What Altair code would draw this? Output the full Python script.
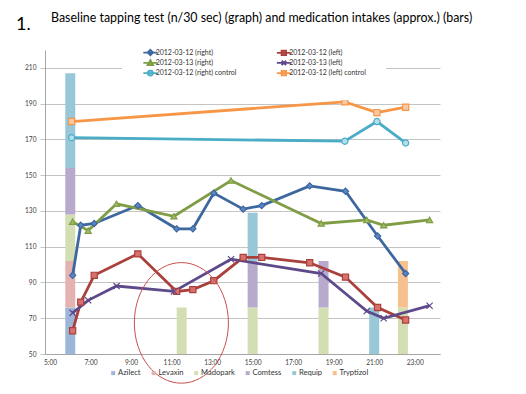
import altair as alt
import pandas as pd

# ---------------- data ----------------
title_text = ["Baseline tapping test (n/30 sec) (graph) and medication intakes (approx.) (bars)"]
number_label = ["1."]

series_names = ["2012-03-12 (right)", "2012-03-12 (left)",
                "2012-03-13 (right)", "2012-03-13 (left)",
                "2012-03-12 (right) control", "2012-03-12 (left) control"]
# legend is filled column by column: left column first
legend_order = [0, 2, 4, 1, 3, 5]

times_0312 = ["6:07", "6:31", "7:11", "9:20", "11:15", "12:03", "13:05",
              "14:32", "15:27", "17:49", "19:35", "21:10", "22:33"]
right_0312 = [94, 122, 123, 133, 120, 120, 140, 131, 133, 144, 141, 116, 95]
left_0312 = [63, 79, 94, 106, 85, 86, 91, 104, 104, 101, 93, 76, 69]

times_0313 = ["6:07", "6:53", "8:17", "11:07", "13:56", "18:23", "20:38", "21:28", "23:44"]
right_0313 = [124, 119, 134, 127, 147, 123, 125, 122, 125]
left_0313 = [73, 80, 88, 85, 103, 95, 74, 70, 77]

times_ctrl = ["6:04", "19:33", "21:08", "22:33"]
right_ctrl = [171, 169, 180, 168]
left_ctrl = [180, 191, 185, 188]

med_names = ["Azilect", "Levaxin", "Madopark", "Comtess", "Requip", "Tryptizol"]
bar_times = ["6:00", "6:00", "6:00", "6:00", "6:00", "11:30",
             "15:00", "15:00", "15:00", "18:30", "18:30", "21:00", "22:25", "22:25"]
bar_meds = ["Azilect", "Levaxin", "Madopark", "Comtess", "Requip", "Madopark",
            "Madopark", "Comtess", "Requip", "Madopark", "Comtess", "Requip",
            "Madopark", "Tryptizol"]
bar_amounts = [26, 26, 26, 26, 53, 26, 26, 26, 27, 26, 26, 26, 26, 26]

x_ticks = [5, 7, 9, 11, 13, 15, 17, 19, 21, 23]
y_ticks = [50, 70, 90, 110, 130, 150, 170, 190, 210]

circle_time = ["11:29"]
circle_value = [67.4]

# ---------------- styles ----------------
line_colors = ["#3D679F", "#A9403C", "#7F9D45", "#5E4A8A", "#4BACC6", "#F79646"]
marker_fills = ["#5B88C4", "#D8716D", "#A0BE63", "#5E4A8A", "#B3DEEA", "#FAC7A3"]
x_path = "M-1,-1L1,1M-1,1L1,-1"
marker_shapes = ["diamond", "square", "triangle-up", x_path, "circle", "square"]
med_colors = ["#9CB6D9", "#E4B3B1", "#D3DFB3", "#B8AACD", "#98C8D8", "#F7C08F"]

FONT = "Lato"


def hours(s):
    h, m = s.split(":")
    return int(h) + int(m) / 60.0


rows = []
for name, ts, vs in [(series_names[0], times_0312, right_0312),
                     (series_names[1], times_0312, left_0312),
                     (series_names[2], times_0313, right_0313),
                     (series_names[3], times_0313, left_0313),
                     (series_names[4], times_ctrl, right_ctrl),
                     (series_names[5], times_ctrl, left_ctrl)]:
    for t, v in zip(ts, vs):
        rows.append({"t": hours(t), "v": v, "series": name})
line_df = pd.DataFrame(rows)

bar_df = pd.DataFrame({
    "t": [hours(t) for t in bar_times],
    "med": bar_meds,
    "amount": bar_amounts,
    "order": [med_names.index(m) for m in bar_meds],
})

circle_df = pd.DataFrame({"t": [hours(t) for t in circle_time], "v": circle_value})
num_df = pd.DataFrame({"label": number_label})
title_df = pd.DataFrame({"label": title_text})

x_scale = alt.Scale(domain=[5, 24], nice=False, zero=False)
y_scale = alt.Scale(domain=[50, 220], nice=False, zero=False)
x_axis = alt.Axis(values=x_ticks, labelExpr="datum.value + ':00'", grid=False,
                  ticks=False, title=None, labelFontSize=6.6, labelPadding=5,
                  labelFont=FONT, labelColor="#404040", domainColor="#A6A6A6")
y_axis = alt.Axis(values=y_ticks, grid=True, gridColor="#C4C4C4", tickSize=5,
                  tickColor="#C4C4C4", title=None, labelFontSize=6.6,
                  labelPadding=4, labelFont=FONT, labelColor="#404040",
                  domainColor="#A6A6A6")

# legend symbols: short line with the series marker in its middle
marker_paths = [
    "M0,-1.1L1.1,0L0,1.1L-1.1,0Z",
    "M-0.9,-0.9L0.9,-0.9L0.9,0.9L-0.9,0.9Z",
    "M0,-1.1L1.1,0.9L-1.1,0.9Z",
    "M-0.9,-0.9L0.9,0.9M-0.9,0.9L0.9,-0.9",
    "M-1,0A1,1,0,1,0,1,0A1,1,0,1,0,-1,0Z",
    "M-0.9,-0.9L0.9,-0.9L0.9,0.9L-0.9,0.9Z",
]
line_part = "M-2.8,0L2.8,0"
legend_shapes = [line_part + p for p in marker_paths]

leg_names = [series_names[i] for i in legend_order]
leg_shapes = [legend_shapes[i] for i in legend_order]
leg_fills = [marker_fills[i] for i in legend_order]
leg_strokes = [line_colors[i] for i in legend_order]

LEG_PAD = 20
line_legend = alt.Legend(
    orient="none", legendX=97 - LEG_PAD, legendY=-1 - LEG_PAD, columns=2, title=None,
    padding=LEG_PAD, fillColor="white",
    columnPadding=35.5, rowPadding=-2.7, labelFont=FONT, labelFontSize=7,
    labelColor="#333333", symbolSize=25, symbolOffset=4.85, labelOffset=1.8,
    symbolStrokeWidth=1.8, labelLimit=200,
)

med_legend = alt.Legend(
    orient="none", legendX=62.4, legendY=319, direction="horizontal", columns=6,
    title=None, padding=0, symbolType="square", symbolSize=16, labelFont=FONT,
    labelFontSize=7.6, labelColor="#333333", labelOffset=1, symbolOffset=2,
    columnPadding=6.5, symbolStrokeWidth=0,
)

bars = alt.Chart(bar_df).transform_stack(
    stack="amount", groupby=["t"], as_=["s0", "s1"],
    sort=[alt.SortField("order", order="ascending")]
).transform_calculate(
    b0="datum.s0 + 50", b1="datum.s1 + 50"
).mark_bar(size=10).encode(
    x=alt.X("t:Q", scale=x_scale, axis=x_axis),
    y=alt.Y("b0:Q", scale=y_scale, axis=y_axis),
    y2="b1:Q",
    color=alt.Color("med:N", scale=alt.Scale(domain=med_names, range=med_colors),
                    legend=med_legend),
)

line_layers = []
point_layers = []
for name, shp, fc, sc in zip(series_names, marker_shapes, marker_fills, line_colors):
    sub = alt.Chart(line_df).transform_filter(alt.datum.series == name)
    line_layers.append(
        sub.mark_line(strokeWidth=2.8, color=sc).encode(
            x=alt.X("t:Q", scale=x_scale, axis=x_axis),
            y=alt.Y("v:Q", scale=y_scale, axis=y_axis),
        )
    )
    point_layers.append(
        sub.mark_point(
            shape=shp, filled=True, size=38, strokeWidth=1.2, opacity=1,
            fill=fc, stroke=sc,
        ).encode(
            x=alt.X("t:Q", scale=x_scale, axis=x_axis),
            y=alt.Y("v:Q", scale=y_scale, axis=y_axis),
        )
    )

# legend-only layer: no marks drawn (data filtered out), legend from the scale domains
legend_layer = alt.Chart(line_df).transform_filter("false").mark_point(
    filled=True, opacity=1, strokeWidth=1.8
).encode(
    x=alt.X("t:Q", scale=x_scale, axis=x_axis),
    y=alt.Y("v:Q", scale=y_scale, axis=y_axis),
    fill=alt.Fill("series:N", scale=alt.Scale(domain=leg_names, range=leg_fills),
                  legend=line_legend),
    stroke=alt.Stroke("series:N", scale=alt.Scale(domain=leg_names, range=leg_strokes),
                      legend=line_legend),
    shape=alt.Shape("series:N", scale=alt.Scale(domain=leg_names, range=leg_shapes),
                    legend=line_legend),
)

ellipse_path = "M-0.78,0A0.78,1,0,1,0,0.78,0A0.78,1,0,1,0,-0.78,0Z"
ellipse = alt.Chart(circle_df).mark_point(
    shape=ellipse_path, size=14545, filled=False, stroke="#C8504C",
    strokeWidth=1, opacity=1, clip=False
).encode(
    x=alt.X("t:Q", scale=x_scale, axis=x_axis),
    y=alt.Y("v:Q", scale=y_scale, axis=y_axis),
)

num = alt.Chart(num_df).mark_text(
    font=FONT, fontSize=18, align="left", baseline="alphabetic", color="#000000"
).encode(text="label:N", x=alt.value(-29), y=alt.value(-20))

title = alt.Chart(title_df).mark_text(
    font=FONT, fontSize=12.4, align="left", baseline="alphabetic", color="#000000"
).encode(text="label:N", x=alt.value(6), y=alt.value(-28))

chart = alt.layer(bars, *line_layers, *point_layers, legend_layer, ellipse, num, title).properties(
    width=395, height=304,
    autosize="none",
    padding={"left": 37, "top": 42, "right": 76, "bottom": 30},
).configure_view(stroke=None)

chart.save("out.html", embed_options={"renderer": "svg", "actions": False})
